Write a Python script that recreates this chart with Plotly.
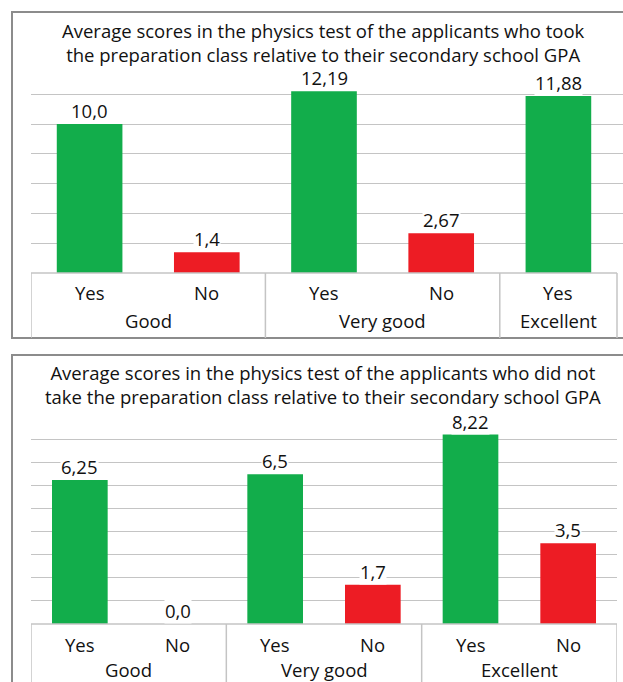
import plotly.graph_objects as go

W, H = 623, 682

# ---- data ----
top_title = "Average scores in the physics test of the applicants who took<br>the preparation class relative to their secondary school GPA"
top_answers = ["Yes", "No", "Yes", "No", "Yes"]
top_groups = ["Good", "Very good", "Excellent"]
top_group_sizes = [2, 2, 1]
top_values = [10.0, 1.4, 12.19, 2.67, 11.88]
top_labels = ["10,0", "1,4", "12,19", "2,67", "11,88"]

bot_title = "Average scores in the physics test of the applicants who did not<br>take the preparation class relative to their secondary school GPA"
bot_answers = ["Yes", "No", "Yes", "No", "Yes", "No"]
bot_groups = ["Good", "Very good", "Excellent"]
bot_group_sizes = [2, 2, 2]
bot_values = [6.25, 0.0, 6.5, 1.7, 8.22, 3.5]
bot_labels = ["6,25", "0,0", "6,5", "1,7", "8,22", "3,5"]

GREEN = "#12ad4b"
RED = "#ed1c24"
GRID = "#c4c4c4"
BORDER = "#8c8c8c"
FONT = "Open Sans"
FS = 18.5


def px(x):
    return x / W


def py(y):
    return 1 - y / H


def colors(ans):
    return [GREEN if a == "Yes" else RED for a in ans]


fig = go.Figure()
fig.add_trace(go.Bar(x=list(range(len(top_values))), y=top_values,
                     marker=dict(color=colors(top_answers), line=dict(width=0)),
                     width=0.56, xaxis="x", yaxis="y", hoverinfo="skip"))
fig.add_trace(go.Bar(x=list(range(len(bot_values))), y=bot_values,
                     marker=dict(color=colors(bot_answers), line=dict(width=0)),
                     width=0.57, xaxis="x2", yaxis="y2", hoverinfo="skip"))

# panel geometry (pixels)
top_base, top_ppu = 273, 14.9
top_ymax = (top_base - 86) / top_ppu
bot_base, bot_ppu = 624, 23.05
bot_ymax = (bot_base - 424) / bot_ppu

fig.update_layout(
    width=W, height=H, margin=dict(l=0, r=0, t=0, b=0),
    paper_bgcolor="white", plot_bgcolor="white", showlegend=False,
    font=dict(family=FONT, size=FS, color="#111111"),
    xaxis=dict(domain=[px(31), 1], range=[-0.5, -0.5 + (623 - 31) / 117.2],
               showticklabels=False, showgrid=False, zeroline=False, fixedrange=True),
    yaxis=dict(domain=[py(top_base), py(86)], range=[0, top_ymax], dtick=2, tick0=0,
               showticklabels=False, showgrid=True, gridcolor=GRID, gridwidth=1.3,
               zeroline=False, fixedrange=True),
    xaxis2=dict(domain=[px(31), px(617)], range=[-0.5, 5.5], anchor="y2",
                showticklabels=False, showgrid=False, zeroline=False, fixedrange=True),
    yaxis2=dict(domain=[py(bot_base), py(424)], range=[0, bot_ymax], dtick=1, tick0=0,
                anchor="x2", showticklabels=False, showgrid=True, gridcolor=GRID,
                gridwidth=1.3, zeroline=False, fixedrange=True),
)

shapes = []
annotations = []

# panel borders
shapes.append(dict(type="rect", xref="paper", yref="paper", x0=px(12), x1=px(640),
                   y0=py(338), y1=py(12), line=dict(color=BORDER, width=2)))
shapes.append(dict(type="rect", xref="paper", yref="paper", x0=px(12), x1=px(640),
                   y0=py(700), y1=py(355), line=dict(color=BORDER, width=2)))

# titles
annotations.append(dict(text=top_title, xref="paper", yref="paper", x=px(323), y=py(42.5),
                        xanchor="center", yanchor="middle", showarrow=False))
annotations.append(dict(text=bot_title, xref="paper", yref="paper", x=px(323), y=py(384),
                        xanchor="center", yanchor="middle", showarrow=False))


def table(xref, n, sizes, answers, groups, base_y, bottom_y, ans_y, grp_y):
    # top line of table
    shapes.append(dict(type="line", xref=xref, yref="paper", x0=-0.5, x1=n - 0.5,
                       y0=py(base_y), y1=py(base_y), line=dict(color=GRID, width=1.5)))
    # vertical separators
    edges = [-0.5]
    for s in sizes:
        edges.append(edges[-1] + s)
    for e in edges:
        shapes.append(dict(type="line", xref=xref, yref="paper", x0=e, x1=e,
                           y0=py(base_y), y1=py(bottom_y), line=dict(color=GRID, width=1.5)))
    for i, a in enumerate(answers):
        annotations.append(dict(text=a, xref=xref, yref="paper", x=i, y=py(ans_y),
                                xanchor="center", yanchor="middle", showarrow=False))
    for g, (lo, hi) in zip(groups, zip(edges[:-1], edges[1:])):
        annotations.append(dict(text=g, xref=xref, yref="paper", x=(lo + hi) / 2, y=py(grp_y),
                                xanchor="center", yanchor="middle", showarrow=False))


table("x", len(top_values), top_group_sizes, top_answers, top_groups, top_base, 338, 292, 320)
table("x2", len(bot_values), bot_group_sizes, bot_answers, bot_groups, bot_base, 690, 644, 669)

# data labels
for xr, yr, vals, labs in [("x", "y", top_values, top_labels), ("x2", "y2", bot_values, bot_labels)]:
    for i, (v, l) in enumerate(zip(vals, labs)):
        annotations.append(dict(text=l, xref=xr, yref=yr, x=i, y=v, xanchor="center",
                                yanchor="bottom", yshift=0, showarrow=False,
                                bgcolor="white", borderpad=0))

fig.update_layout(shapes=shapes, annotations=annotations)
fig.write_html("out.html", config={"displayModeBar": False},
               post_script="document.body.style.margin='0';document.body.style.overflow='hidden';")
